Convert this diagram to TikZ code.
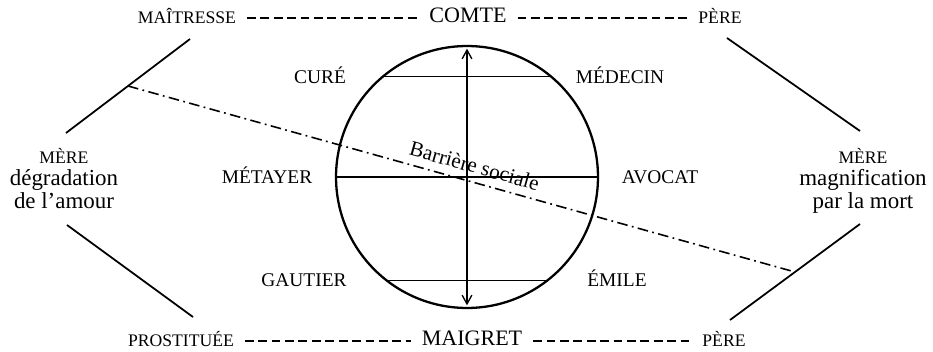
\documentclass[tikz,border=0pt]{standalone}
\usepackage{fontspec}
\setmainfont{Liberation Serif}
\usetikzlibrary{arrows.meta,calc}
\begin{document}
\begin{tikzpicture}[x=0.5669pt,y=-0.5669pt,
 caps/.style={inner sep=0pt, text height=0.66em, text depth=0pt, font=\fontsize{10}{12}\selectfont},
 innerlbl/.style={caps, font=\fontsize{11}{13}\selectfont},
 biglbl/.style={caps, font=\fontsize{12.5}{15}\selectfont},
 dashline/.style={line width=1pt, dash pattern=on 5pt off 2.6pt, shorten <=6pt, shorten >=6pt},
 side/.style={align=center, inner sep=0pt, anchor=north, font=\fontsize{13}{12.7}\selectfont},
 diag/.style={line width=1pt},
 chord/.style={line width=0.75pt},
 barrier/.style={line width=0.9pt, dash pattern=on 6pt off 2.5pt on 1pt off 2.5pt}
]
\useasboundingbox (0,0) rectangle (933,352);

% circle
\node[draw, circle, line width=1.3pt, minimum size=148.5pt, inner sep=0pt, outer sep=0pt] (c) at (467,177) {};
\draw[chord] (c.130) -- (c.50);
\draw[chord] (c.-128) -- (c.-52);
\draw[chord] (c.west) -- (c.east);
\draw[chord, {Straight Barb[length=5pt,width=5.5pt]}-{Straight Barb[length=5pt,width=5.5pt]}, shorten <=1.5pt, shorten >=1.5pt] (c.south) -- (c.north);

% inner labels
\node[innerlbl] (cure) at (320,78) {CURÉ};
\node[innerlbl] (medecin) at (620,78) {MÉDECIN};
\node[innerlbl] (metayer) at (267,178) {MÉTAYER};
\node[innerlbl] (avocat) at (660,178) {AVOCAT};
\node[innerlbl] (gautier) at (304,281) {GAUTIER};
\node[innerlbl] (emile) at (617,281) {ÉMILE};

% top row
\node[caps] (mait) at (187,18) {MAÎTRESSE};
\node[biglbl] (comte) at (468,17) {COMTE};
\node[caps] (pere1) at (720,18) {PÈRE};
\draw[dashline] (mait.east) -- (mait.east -| comte.west);
\draw[dashline] (comte.east |- pere1.west) -- (pere1.west);

% bottom row
\node[caps] (prost) at (181,341) {PROSTITUÉE};
\node[biglbl] (maigret) at (472,340) {MAIGRET};
\node[caps] (pere2) at (724,341) {PÈRE};
\draw[dashline] (prost.east) -- (prost.east -| maigret.west);
\draw[dashline] (maigret.east |- pere2.west) -- (pere2.west);

% side texts
\node[side] (meregauche) at (64,148) {{\fontsize{10}{12.7}\selectfont MÈRE}\\dégradation\\de l’amour};
\node[side] (meredroite) at (863,148) {{\fontsize{10}{12.7}\selectfont MÈRE}\\magnification\\par la mort};

% diagonals
\coordinate (ula) at (190,39);
\coordinate (ulb) at (66,133);
\coordinate (lla) at (67,225);
\coordinate (llb) at (193,317);
\coordinate (ura) at (727,38);
\coordinate (urb) at (860,131);
\coordinate (lra) at (860,224);
\coordinate (lrb) at (730,320);
\draw[diag] (ula) -- (ulb);
\draw[diag] (lla) -- (llb);
\draw[diag] (ura) -- (urb);
\draw[diag] (lra) -- (lrb);

% social barrier
\coordinate (bstart) at ($(ula)!0.5!(ulb)$);
\coordinate (bend) at ($(lra)!0.5!(lrb)$);
\draw[barrier] (bstart) -- node[pos=0.513, sloped, anchor=south, inner sep=0pt, yshift=4.5pt, font=\fontsize{12}{14}\selectfont] (bs) {Barrière sociale} (bend);
\end{tikzpicture}
\end{document}
